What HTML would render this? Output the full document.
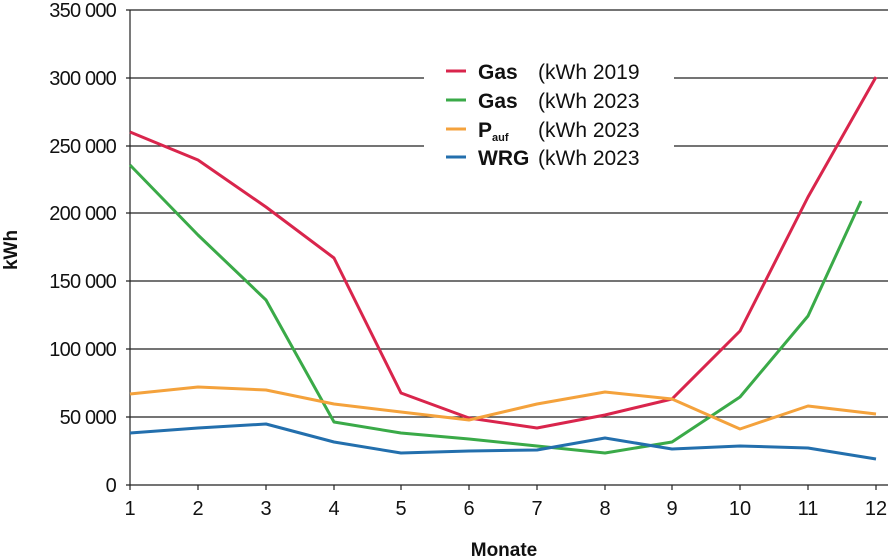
<!DOCTYPE html>
<html><head><style>body{margin:0;background:#fff}svg{display:block}text{font-family:"Liberation Sans",Arial,sans-serif;fill:#111}</style></head><body>
<svg width="888" height="558" viewBox="0 0 888 558">
<g stroke="#222" stroke-width="1.2">
<line x1="126" y1="10" x2="888" y2="10"/><line x1="126" y1="78" x2="888" y2="78"/><line x1="126" y1="146" x2="888" y2="146"/><line x1="126" y1="213" x2="888" y2="213"/><line x1="126" y1="281" x2="888" y2="281"/><line x1="126" y1="349" x2="888" y2="349"/><line x1="126" y1="417" x2="888" y2="417"/><line x1="126" y1="485" x2="888" y2="485"/>
<line x1="130" y1="10" x2="130" y2="485"/>
<g><line x1="130" y1="485" x2="130" y2="490"/><line x1="198" y1="485" x2="198" y2="490"/><line x1="266" y1="485" x2="266" y2="490"/><line x1="334" y1="485" x2="334" y2="490"/><line x1="401" y1="485" x2="401" y2="490"/><line x1="469" y1="485" x2="469" y2="490"/><line x1="537" y1="485" x2="537" y2="490"/><line x1="605" y1="485" x2="605" y2="490"/><line x1="672" y1="485" x2="672" y2="490"/><line x1="740" y1="485" x2="740" y2="490"/><line x1="808" y1="485" x2="808" y2="490"/><line x1="876" y1="485" x2="876" y2="490"/></g>
</g>
<g font-size="20" text-anchor="end" letter-spacing="-0.8">
<text x="116" y="17">350 000</text><text x="116" y="85">300 000</text><text x="116" y="153">250 000</text><text x="116" y="220">200 000</text><text x="116" y="288">150 000</text><text x="116" y="356">100 000</text><text x="116" y="424">50 000</text><text x="116" y="492">0</text>
</g>
<g font-size="20" text-anchor="middle">
<text x="130" y="515">1</text><text x="198" y="515">2</text><text x="266" y="515">3</text><text x="334" y="515">4</text><text x="401" y="515">5</text><text x="469" y="515">6</text><text x="537" y="515">7</text><text x="605" y="515">8</text><text x="672" y="515">9</text><text x="740" y="515">10</text><text x="808" y="515">11</text><text x="876" y="515">12</text>
</g>
<text x="504" y="556" font-size="19" font-weight="bold" text-anchor="middle">Monate</text>
<text transform="translate(17,250) rotate(-90)" font-size="19" font-weight="bold" text-anchor="middle">kWh</text>
<rect x="424" y="56" width="250" height="118" fill="#fff"/>
<g fill="none" stroke-width="3" stroke-linejoin="round">
<polyline stroke="#d9254c" points="130,132 198,160 266,207 334,258 401,393 469,418 537,428 605,415 672,399 740,331 808,197 876,77"/>
<polyline stroke="#3aaa48" points="130,165 198,235 266,300 334,422 401,433 469,439 537,446 605,453 672,442 740,397 808,316 861,201"/>
<polyline stroke="#f4a23c" points="130,394 198,387 266,390 334,404 401,412 469,420 537,404 605,392 672,399 740,429 808,406 876,414"/>
<polyline stroke="#236fad" points="130,433 198,428 266,424 334,442 401,453 469,451 537,450 605,438 672,449 740,446 808,448 876,459"/>
<line x1="446" y1="71" x2="466" y2="71" stroke="#d9254c"/>
<line x1="446" y1="100" x2="466" y2="100" stroke="#3aaa48"/>
<line x1="446" y1="129" x2="466" y2="129" stroke="#f4a23c"/>
<line x1="446" y1="157" x2="466" y2="157" stroke="#236fad"/>
</g>
<g font-size="21">
<text x="478" y="79" font-weight="bold">Gas</text><text x="538" y="79">(kWh 2019</text>
<text x="478" y="108" font-weight="bold">Gas</text><text x="538" y="108">(kWh 2023</text>
<text x="478" y="137" font-weight="bold">P<tspan font-size="11" dy="4">auf</tspan></text><text x="538" y="137">(kWh 2023</text>
<text x="478" y="165" font-weight="bold">WRG</text><text x="538" y="165">(kWh 2023</text>
</g>
</svg>
</body></html>
